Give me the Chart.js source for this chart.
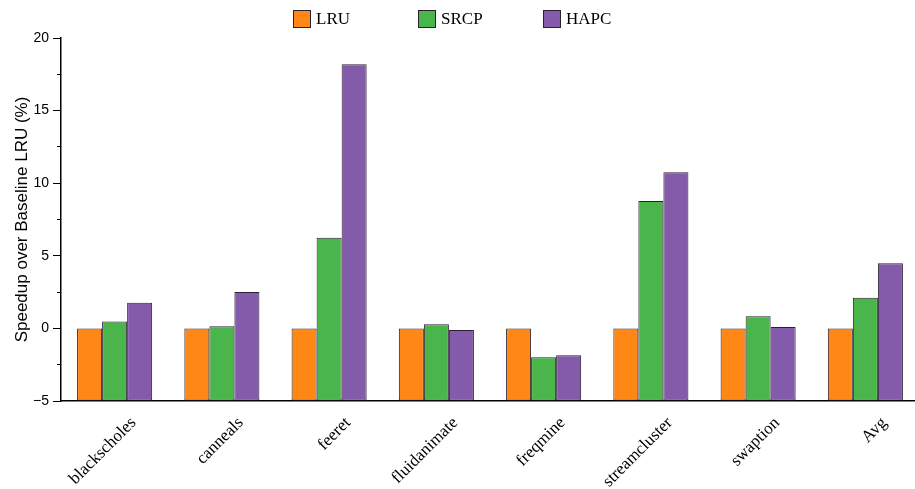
<!DOCTYPE html>
<html>
<head>
<meta charset="utf-8">
<script src="https://cdn.jsdelivr.net/npm/chart.js@4/dist/chart.umd.min.js"></script>
<style>
html,body{margin:0;padding:0;background:#fff;overflow:hidden;}
#wrap{width:919px;height:489px;position:relative;}
#legend{position:absolute;top:9px;left:293px;display:flex;font-family:"Liberation Serif","Times New Roman",serif;font-size:17px;color:#000;}
#legend .item{width:125px;display:flex;align-items:center;}
#legend .box{width:18px;height:18px;border:1px solid #2a2030;margin-right:5px;box-sizing:border-box;}
</style>
</head>
<body>
<div id="wrap"><canvas id="c"></canvas><div id="legend"></div></div>
<script>
const benchmarks=['blackscholes','canneals','feeret','fluidanimate','freqmine','streamcluster','swaption','Avg'];
const seriesNames=['LRU','SRCP','HAPC'];
const lru=[0,0,0,0,0,0,0,0];
const srcp=[0.47,0.15,6.25,0.28,-1.99,8.77,0.83,2.11];
const hapc=[1.77,2.5,18.19,-0.11,-1.85,10.75,0.1,4.48];
const colors=['#ff8716','#4ab54a','#845bab'];
const yMin=-5,yMax=20,majorStep=5,minorStep=2.5;

const serif='"Liberation Serif","Times New Roman",serif';
const sans='"Liberation Sans",Arial,sans-serif';

function ds(i,data){
 return {label:seriesNames[i],data:data,backgroundColor:colors[i],borderColor:'#2a2030',borderWidth:1,borderSkipped:false,
  base:yMin,categoryPercentage:0.7,barPercentage:1.0};
}

const chart=new Chart(document.getElementById('c'),{
 type:'bar',
 data:{labels:benchmarks,datasets:[ds(0,lru),ds(1,srcp),ds(2,hapc)]},
 options:{
  responsive:true,maintainAspectRatio:false,animation:false,
  layout:{padding:{top:38,right:0,left:11,bottom:0}},
  plugins:{legend:{display:false},tooltip:{enabled:false}},
  scales:{
   x:{grid:{display:false,drawTicks:false},border:{display:true,color:'#000',width:1.5},
    ticks:{font:{family:serif,size:17},color:'#000',minRotation:45,maxRotation:45,padding:12,labelOffset:19},
    afterFit(s){s.height=88;}},
   y:{min:yMin,max:yMax,weight:1,
    grid:{drawOnChartArea:false,drawTicks:true,tickLength:8,color:'#000',tickColor:'#000'},
    border:{display:true,color:'#000',width:1.5},
    ticks:{stepSize:majorStep,font:{family:sans,size:14},color:'#000',padding:4,
     callback(v){return String(v).replace('-','\u2212');}},
    title:{display:true,text:'Speedup over Baseline LRU (%)',font:{family:sans,size:17},color:'#000',padding:{top:1,bottom:2}},
    afterFit(s){s.width=50;}},
   yMinor:{min:yMin,max:yMax,position:'left',weight:0,
    grid:{drawOnChartArea:false,drawTicks:true,tickLength:4,color:'#000',tickColor:'#000'},
    border:{display:false},
    ticks:{stepSize:minorStep,display:true,callback(){return '';}},
    afterFit(s){s.width=0;}}
  }
 }
});

const legend=document.getElementById('legend');
chart.data.datasets.forEach(d=>{
 const item=document.createElement('div');item.className='item';
 const box=document.createElement('span');box.className='box';box.style.background=d.backgroundColor;
 const txt=document.createElement('span');txt.textContent=d.label;
 item.appendChild(box);item.appendChild(txt);legend.appendChild(item);
});
</script>
</body>
</html>
